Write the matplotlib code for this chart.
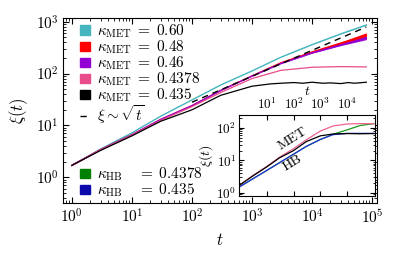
import matplotlib
matplotlib.use("Agg")
import matplotlib.pyplot as plt
from matplotlib.patches import Patch
from matplotlib.lines import Line2D
import numpy as np

plt.rcParams['mathtext.fontset'] = 'cm'
plt.rcParams['font.family'] = 'serif'
plt.rcParams['font.serif'] = ['cmr10', 'DejaVu Serif']
plt.rcParams['axes.formatter.use_mathtext'] = True

# ---- main data (time grid and correlation lengths) ----
t_main = [1, 3, 10, 30, 100, 300, 1000, 3000, 10000, 30000, 80000]
xi_060 = [1.7, 3.5, 7.2, 15, 31, 60, 112, 205, 360, 580, 860]
xi_060_hi = [1.7, 3.5, 7.2, 15, 31, 60, 112, 205, 365, 595, 900]
xi_048 = [1.7, 3.4, 6.6, 13, 24, 47, 90, 160, 260, 385, 540]
xi_048_hi = [1.7, 3.4, 6.6, 13, 24, 47, 90, 162, 268, 405, 610]
xi_048_lo = [1.7, 3.4, 6.6, 13, 24, 47, 90, 158, 252, 360, 470]
xi_046 = [1.7, 3.4, 6.6, 13, 24, 47, 89, 155, 250, 355, 485]
xi_046_hi = [1.7, 3.4, 6.6, 13, 24, 47, 89, 156, 254, 365, 520]
xi_046_lo = [1.7, 3.4, 6.6, 13, 24, 47, 89, 154, 246, 345, 450]
xi_04378 = [1.7, 3.4, 6.5, 12.5, 23, 43, 80, 115, 132, 136, 134]

t_black = [1, 3, 10, 30, 100, 300, 1000, 2000, 3000, 5000, 7000, 10000,
           15000, 20000, 30000, 40000, 50000, 60000, 80000]
xi_0435 = [1.7, 3.3, 6.3, 12, 20, 38, 57, 63, 65, 67, 65, 68,
           65, 66, 64, 67, 65, 66, 68]

t_ref = [100, 80000]
xi_ref = [28, 790]

# ---- inset data ----
t_in = [1, 3, 10, 30, 100, 300, 1000, 3000, 10000, 30000, 100000]
xi_in_met_0435 = [1.76, 3.3, 6.3, 12, 20, 38, 57, 65, 67, 66, 67]
xi_in_met_04378 = [1.76, 3.4, 6.5, 12.5, 23, 43, 80, 115, 132, 136, 134]
xi_in_hb_0435 = [1.56, 2.7, 4.9, 8.5, 15.5, 27, 44, 62, 68, 68, 68]
xi_in_hb_04378 = [1.56, 2.7, 4.9, 8.5, 15.5, 27, 44, 64, 87, 118, 136]

c_060 = '#45B5BE'
c_048 = '#FF0000'
c_046 = '#9400D3'
c_04378 = '#E84C8A'
c_0435 = '#000000'
c_hb_04378 = '#008000'
c_hb_0435 = '#0A0AAA'

fig = plt.figure(figsize=(3.98, 2.59), dpi=100)
ax = fig.add_axes([0.159, 0.216, 0.788, 0.715])

ax.plot(t_main, xi_060, color=c_060, lw=1.0)
ax.fill_between(t_main, xi_060, xi_060_hi, color=c_060, lw=0)
ax.plot(t_main, xi_048, color=c_048, lw=1.0)
ax.fill_between(t_main, xi_048_lo, xi_048_hi, color=c_048, lw=0)
ax.plot(t_main, xi_046, color=c_046, lw=1.0)
ax.fill_between(t_main, xi_046_lo, xi_046_hi, color=c_046, lw=0)
ax.plot(t_main, xi_04378, color=c_04378, lw=0.9)
ax.plot(t_black, xi_0435, color=c_0435, lw=0.9)
ax.plot(t_ref, xi_ref, color='black', lw=1.0, dashes=(4.5, 3.5))

ax.set_xscale('log')
ax.set_yscale('log')
ax.set_xlim(0.72, 1.2e5)
ax.set_ylim(0.32, 1180)
ax.set_xticks([1, 10, 100, 1e3, 1e4, 1e5])
ax.set_yticks([1, 10, 100, 1e3])
ax.tick_params(which='both', direction='in', top=True, right=True, labelsize=11)
ax.tick_params(which='major', length=4)
ax.tick_params(which='minor', length=2)
ax.set_xlabel(r'$t$', fontsize=12)
ax.set_ylabel(r'$\xi(t)$', fontsize=12)

leg_kw = dict(frameon=False, fontsize=11, borderpad=0, borderaxespad=0,
              handlelength=0.65, handleheight=0.55, handletextpad=0.5,
              labelspacing=-0.1)
h1 = [Patch(color=c_060), Patch(color=c_048), Patch(color=c_046),
      Patch(color=c_04378), Patch(color=c_0435)]
l1 = [r'$\kappa_{\rm MET}\;=\;0.60$', r'$\kappa_{\rm MET}\;=\;0.48$',
      r'$\kappa_{\rm MET}\;=\;0.46$', r'$\kappa_{\rm MET}\;=\;0.4378$',
      r'$\kappa_{\rm MET}\;=\;0.435$']
leg1 = ax.legend(h1, l1, loc='upper left', bbox_to_anchor=(0.053, 0.975),
                 **leg_kw)
ax.add_artist(leg1)
leg_r = ax.legend([Line2D([], [], color='black', lw=1.0, dashes=(4.5, 3.5))],
                  [r'$\xi \sim \sqrt{t}$'], loc='center left',
                  bbox_to_anchor=(0.053, 0.48), **leg_kw)
ax.add_artist(leg_r)
h2 = [Patch(color=c_hb_04378), Patch(color=c_hb_0435)]
l2 = [r'$\kappa_{\rm HB}\quad\,=\;0.4378$', r'$\kappa_{\rm HB}\quad\,=\;0.435$']
ax.legend(h2, l2, loc='lower left', bbox_to_anchor=(0.053, 0.02), **leg_kw)

# ---- inset ----
axi = fig.add_axes([239 / 398, 1 - 196 / 259, 136 / 398, 81 / 259])
axi.plot(t_in, xi_in_hb_04378, color='#1A9A1A', lw=0.9)
axi.plot(t_in, xi_in_hb_0435, color='#2233DD', lw=0.9)
axi.plot(t_in, xi_in_met_04378, color='#F06292', lw=0.9)
axi.plot(t_in, xi_in_met_0435, color='black', lw=0.9)
axi.set_xscale('log')
axi.set_yscale('log')
axi.set_xlim(0.92, 1.1e5)
axi.set_ylim(0.8, 250)
axi.set_xticks([10, 100, 1e3, 1e4])
axi.set_yticks([1, 10, 100])
axi.xaxis.tick_top()
axi.xaxis.set_label_position('top')
axi.tick_params(which='both', direction='in', top=True, bottom=True,
                left=True, right=True, labelsize=9.5, pad=2)
axi.tick_params(which='major', length=3.5)
axi.tick_params(which='minor', length=1.8)
axi.set_xlabel(r'$t$', fontsize=10, labelpad=1)
axi.set_ylabel(r'$\xi(t)$', fontsize=10, labelpad=1)
axi.text(90, 45, 'MET', rotation=32, fontsize=10, ha='center', va='center')
axi.text(95, 8.5, 'HB', rotation=32, fontsize=10, ha='center', va='center')

fig.savefig('out.png', dpi=100)
